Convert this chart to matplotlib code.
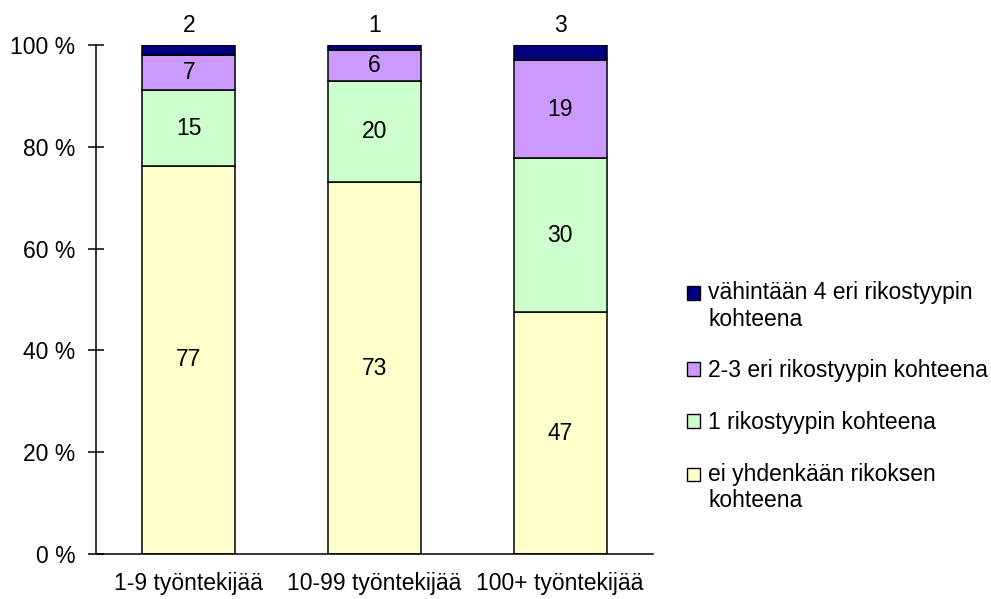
import numpy as np
import matplotlib.pyplot as plt
import matplotlib.patches as mpatches
from matplotlib.legend_handler import HandlerPatch

plt.rcParams['font.family'] = ['Liberation Sans', 'DejaVu Sans']
plt.rcParams['font.size'] = 16.5

# Datos (osuudet %, luettu kuvasta)
ryhmat = ['1-9 työntekijää', '10-99 työntekijää', '100+ työntekijää']
ei_yhdenkaan = [77, 73, 47]
yksi_tyyppi = [15, 20, 30]
kaksi_kolme = [7, 6, 19]
vahintaan_nelja = [2, 1, 3]

sarjat = [
    ('ei yhdenkään rikoksen\nkohteena', ei_yhdenkaan, '#FFFFCC'),
    ('1 rikostyypin kohteena', yksi_tyyppi, '#CCFFCC'),
    ('2-3 eri rikostyypin kohteena', kaksi_kolme, '#CC99FF'),
    ('vähintään 4 eri rikostyypin\nkohteena', vahintaan_nelja, '#000080'),
]

arvot = np.array([s[1] for s in sarjat], dtype=float)
osuudet = arvot / arvot.sum(axis=0) * 100  # 100 % pinottu

fig = plt.figure(figsize=(9.91, 5.99), dpi=100)
ax = fig.add_axes([96 / 991, 1 - 554 / 599, (653 - 96) / 991, (554 - 45) / 599])

x = np.arange(len(ryhmat))
pohja = np.zeros(len(ryhmat))
for i, (nimi, vals, vari) in enumerate(sarjat):
    ax.bar(x, osuudet[i], 0.5, bottom=pohja, color=vari, edgecolor='black', linewidth=1.1)
    for j in range(len(x)):
        if i < 3:
            ax.text(x[j], pohja[j] + osuudet[i][j] / 2, str(vals[j]),
                    ha='center', va='center')
        else:
            ax.annotate(str(vals[j]), (x[j], 100), xytext=(0, 9.5),
                        textcoords='offset points', ha='center', va='baseline')
    pohja += osuudet[i]

ax.set_xlim(-0.5, 2.5)
ax.set_ylim(0, 100)
ax.set_xticks(x)
ax.set_xticklabels(ryhmat)
ax.set_yticks(np.arange(0, 101, 20))
ax.set_yticklabels([f'{v} %' for v in range(0, 101, 20)])
ax.tick_params(axis='x', length=0, pad=13)
ax.tick_params(axis='y', direction='inout', length=11.5, width=1.1, pad=9)
for s in ['top', 'right']:
    ax.spines[s].set_visible(False)
for s in ['left', 'bottom']:
    ax.spines[s].set_linewidth(1.1)


def ylos_neliö(legend, orig_handle, xdescent, ydescent, width, height, fontsize):
    # neliö monirivisen selitteen ensimmäisen rivin kohdalle
    n = orig_handle.get_label().count('\n')
    siirto = n * fontsize * 1.2 / 2
    return mpatches.Rectangle((-xdescent, -ydescent + siirto), width, height)


kahvat = [mpatches.Patch(facecolor=v, edgecolor='black', linewidth=1.0, label=n)
          for n, _, v in sarjat][::-1]
fig.legend(handles=kahvat, loc='upper left', bbox_to_anchor=(687 / 991, 1 - 281 / 599),
           frameon=False, borderpad=0, borderaxespad=0, handlelength=0.55,
           handleheight=0.55, handletextpad=0.37, labelspacing=1.25,
           handler_map={mpatches.Patch: HandlerPatch(patch_func=ylos_neliö)})

fig.savefig('out.png', dpi=100)
